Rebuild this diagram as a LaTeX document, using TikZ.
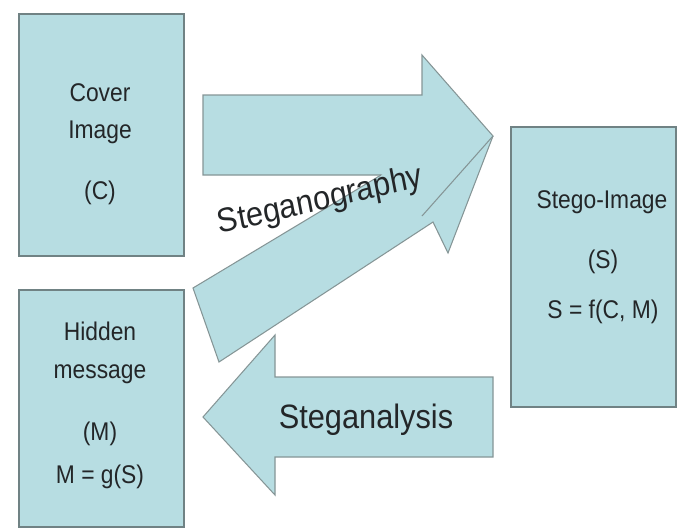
\documentclass[tikz,border=0pt]{standalone}
\usepackage{fontspec}
\setmainfont{Liberation Sans}
\definecolor{paleblue}{RGB}{183,221,226}
\definecolor{rimgray}{RGB}{112,130,132}
\definecolor{inkgray}{RGB}{35,38,40}
\tikzset{
  panel/.style={fill=paleblue,draw=rimgray,line width=1.2pt},
  blockarrow/.style={fill=paleblue,draw=rimgray!85,line width=0.6pt,line join=miter},
  arrowrim/.style={draw=rimgray!85,line width=0.6pt,line join=miter},
  boxtext/.style={font=\fontsize{13}{15}\selectfont,text=inkgray,yscale=1.12,anchor=base,inner sep=0pt},
  bigtext/.style={font=\fontsize{17.5}{20}\selectfont,text=inkgray,yscale=1.1,anchor=base,inner sep=0pt}
}
\begin{document}
\begin{tikzpicture}[x=0.02cm,y=-0.02cm]
  \useasboundingbox (0,0) rectangle (681,529);
  % the three boxes
  \draw[panel] (19,14) rectangle (184,256);
  \draw[panel] (19,290) rectangle (184,527);
  \draw[panel] (511,127) rectangle (676,407);
  % Steganography arrows, both ending at the same tip
  \coordinate (tip) at (493,136);
  \filldraw[blockarrow] (203,95) -- (422,95) -- (422,55) -- (tip) -- (422,216) -- (422,175) -- (203,175) -- cycle;
  \fill[paleblue] (193,288) -- (219,362) -- (433,222) -- (448,253) -- (tip) -- (372,130) -- (393,168) -- cycle;
  \draw[arrowrim] (381,175) -- (193,288) -- (219,362) -- (433,222) -- (448,253) -- (tip);
  \draw[arrowrim] (422,216) -- (tip);
  % Steganalysis arrow
  \filldraw[blockarrow] (493,377) -- (275,377) -- (275,335) -- (203,417) -- (275,495) -- (275,457) -- (493,457) -- cycle;
  % texts
  \node[boxtext] (cover1) at (100,101) {Cover};
  \node[boxtext] (cover2) at (100,138) {Image};
  \node[boxtext] (cover3) at (100,199) {(C)};
  \node[boxtext] (hidden1) at (100,340) {Hidden};
  \node[boxtext] (hidden2) at (100,378) {message};
  \node[boxtext] (hidden3) at (100,440) {(M)};
  \node[boxtext] (hidden4) at (100,483) {M = g(S)};
  \node[boxtext] (stego1) at (602,208) {Stego-Image};
  \node[boxtext] (stego2) at (603,268) {(S)};
  \node[boxtext] (stego3) at (603,318) {S = f(C, M)};
  \node[bigtext,rotate=12] (steganography) at (322,210) {Steganography};
  \node[bigtext] (steganalysis) at (366,428) {Steganalysis};
\end{tikzpicture}
\end{document}
